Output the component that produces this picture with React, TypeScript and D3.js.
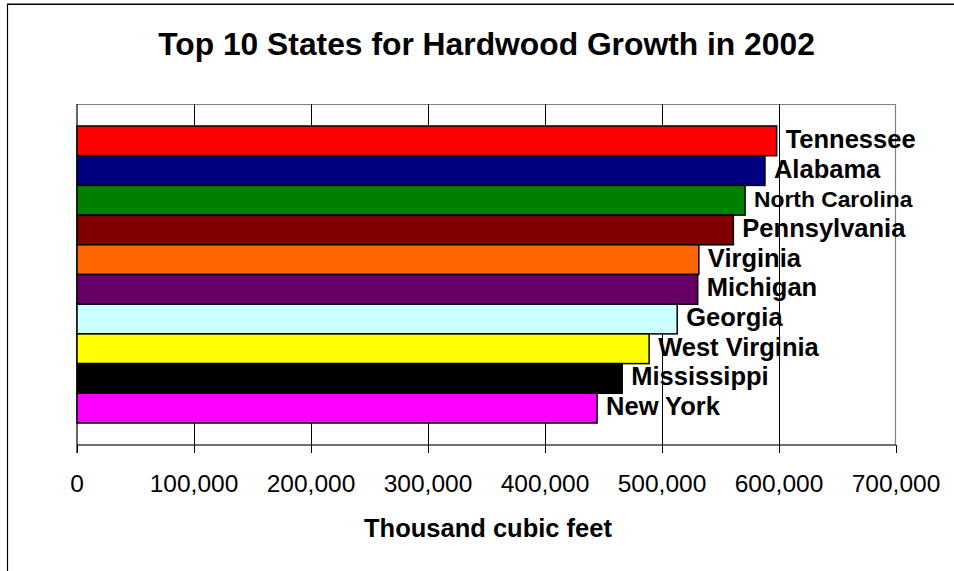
import React from "react";
import * as d3 from "d3";

const states = [
  "Tennessee",
  "Alabama",
  "North Carolina",
  "Pennsylvania",
  "Virginia",
  "Michigan",
  "Georgia",
  "West Virginia",
  "Mississippi",
  "New York",
];
const growth = [598000, 588000, 571000, 561000, 531500, 530500, 513000, 489000, 466000, 444500];
const barColors = [
  "#FF0000",
  "#000080",
  "#008000",
  "#800000",
  "#FF6600",
  "#660066",
  "#CCFFFF",
  "#FFFF00",
  "#000000",
  "#FF00FF",
];
const xTicks = [0, 100000, 200000, 300000, 400000, 500000, 600000, 700000];
const title = "Top 10 States for Hardwood Growth in 2002";
const xTitle = "Thousand cubic feet";

const W = 954;
const H = 571;
const plot = { left: 77, right: 896, top: 104, bottom: 445 };
const FONT = "'Liberation Sans', Arial, sans-serif";

export default function App() {
  const x = d3.scaleLinear().domain([0, 700000]).range([plot.left, plot.right]);
  const y = d3
    .scaleBand<string>()
    .domain(states)
    .range([plot.top + 22, plot.bottom - 22])
    .padding(0);
  const fmt = d3.format(",");
  const data = states.map((s, i) => ({ state: s, value: growth[i], color: barColors[i] }));

  return (
    <svg
      width={W}
      height={H}
      style={{ position: "absolute", left: 0, top: 0, background: "#fff" }}
      fontFamily={FONT}
    >
      <rect x={0} y={0} width={W} height={H} fill="#fff" />
      {/* chart area border */}
      <line x1={7} x2={W} y1={3.5} y2={3.5} stroke="#808080" strokeWidth={1} />
      <line x1={7} x2={W} y1={4.5} y2={4.5} stroke="#000" strokeWidth={1} />
      <line x1={7.5} x2={7.5} y1={4} y2={H} stroke="#000" strokeWidth={1.2} />

      <text x={486.5} y={55} textAnchor="middle" fontWeight="bold" fontSize={31.8} fill="#000">
        {title}
      </text>

      {/* plot area border */}
      <line x1={plot.left} x2={plot.right} y1={plot.top + 0.5} y2={plot.top + 0.5} stroke="#808080" strokeWidth={1.2} />
      <line x1={plot.right - 0.5} x2={plot.right - 0.5} y1={plot.top} y2={plot.bottom} stroke="#808080" strokeWidth={1.2} />

      {/* gridlines */}
      {xTicks.slice(1, -1).map((t) => (
        <line
          key={"g" + t}
          x1={Math.round(x(t)) + 0.5}
          x2={Math.round(x(t)) + 0.5}
          y1={plot.top}
          y2={plot.bottom}
          stroke="#000"
          strokeWidth={1}
        />
      ))}

      {/* axis */}
      <line x1={plot.left} x2={plot.right} y1={plot.bottom} y2={plot.bottom} stroke="#404040" strokeWidth={1.5} />
      <line x1={plot.left} x2={plot.left} y1={plot.top} y2={plot.bottom + 8} stroke="#000" strokeWidth={1.2} />
      {xTicks.map((t) => (
        <line
          key={"t" + t}
          x1={Math.round(x(t)) + 0.5}
          x2={Math.round(x(t)) + 0.5}
          y1={plot.bottom}
          y2={plot.bottom + 8}
          stroke="#000"
          strokeWidth={1}
        />
      ))}
      {xTicks.map((t) => (
        <text key={"l" + t} x={x(t)} y={491.5} textAnchor="middle" fontSize={24.5} fill="#000">
          {fmt(t)}
        </text>
      ))}

      {/* bars */}
      {data.map((d) => (
        <rect
          key={d.state}
          x={x(0)}
          y={y(d.state)!}
          width={x(d.value) - x(0)}
          height={y.bandwidth()}
          fill={d.color}
          stroke="#000"
          strokeWidth={1.5}
        />
      ))}
      {data.map((d) => (
        <text
          key={"n" + d.state}
          x={x(d.value) + 9}
          y={y(d.state)! + y.bandwidth() / 2 + 7}
          fontWeight="bold"
          fontSize={d.state === "North Carolina" ? 22.8 : 25.5}
          fill="#000"
        >
          {d.state}
        </text>
      ))}

      <text x={488} y={537} textAnchor="middle" fontWeight="bold" fontSize={25.5} fill="#000">
        {xTitle}
      </text>
    </svg>
  );
}
